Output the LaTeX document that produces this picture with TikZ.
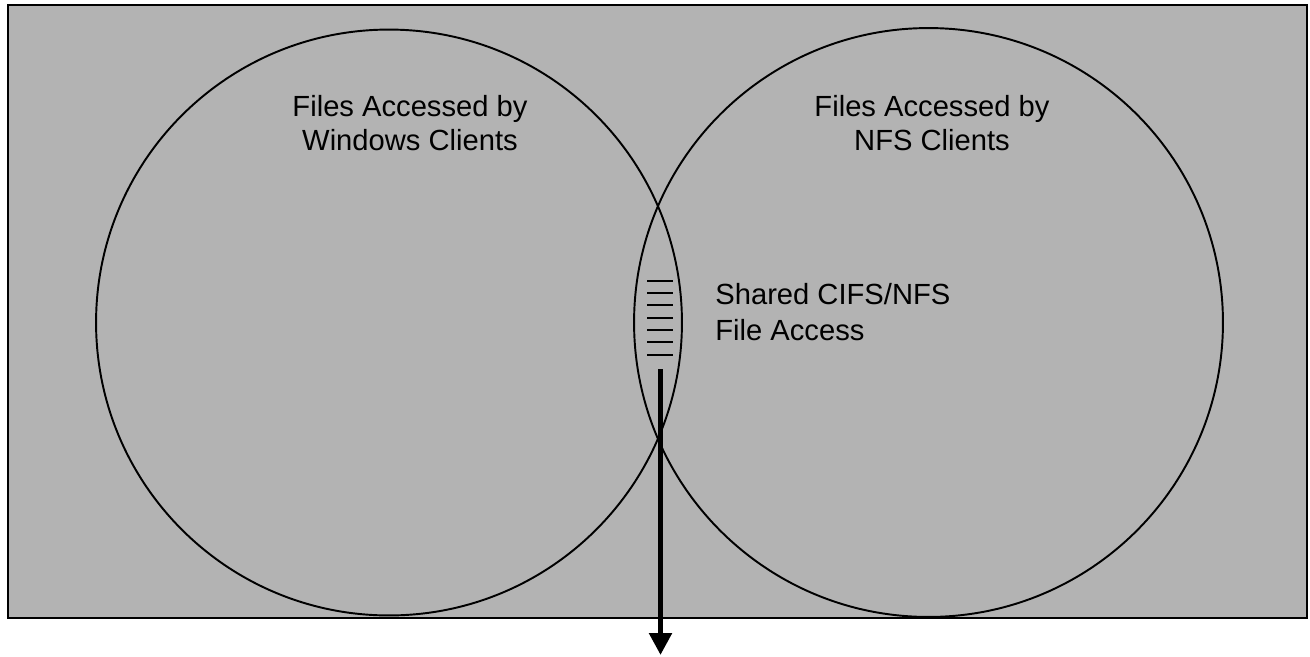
\documentclass[tikz,border=0pt]{standalone}
\usepackage{fontspec}
\setmainfont{Liberation Sans}
\usetikzlibrary{arrows.meta}
\definecolor{panelgray}{RGB}{179,179,179}
\begin{document}
\begin{tikzpicture}[x=0.02cm, y=-0.02cm,
		set/.style = {draw = black, circle, line width = 1.1pt, minimum size = #1, inner sep = 0pt},
		label/.style = {font = \fontsize{16.6}{19}\selectfont, inner sep = 0pt}]
	\useasboundingbox (0, 0) rectangle (1310, 656);
	\draw [fill = panelgray, line width = 1.4pt] (8, 5) rectangle (1307, 618);
	\node [set = 11.72cm] (win) at (389, 322.5) {};
	\node [set = 11.78cm] (nfs) at (928.5, 322.5) {};
	% base anchor sits on the last line
	\node [label, align = center, anchor = base] (winlabel) at (410, 150) {Files Accessed by\\Windows Clients};
	\node [label, align = center, anchor = base] (nfslabel) at (932, 150) {Files Accessed by\\NFS Clients};
	\node [label, align = left, anchor = base west] (sharedlabel) at (715, 340) {Shared CIFS/NFS\\[1pt]File Access};
	\foreach \y in {281, 293, 305, 318, 330, 342, 355}
		\draw [line width = 1.1pt] (647, \y) -- (673, \y);
	\coordinate (shared) at (660.5, 369);
	\coordinate (out) at (660.5, 655);
	\draw [line width = 3pt, -{Triangle[width = 0.44cm, length = 0.44cm]}] (shared) -- (out);
\end{tikzpicture}
\end{document}
